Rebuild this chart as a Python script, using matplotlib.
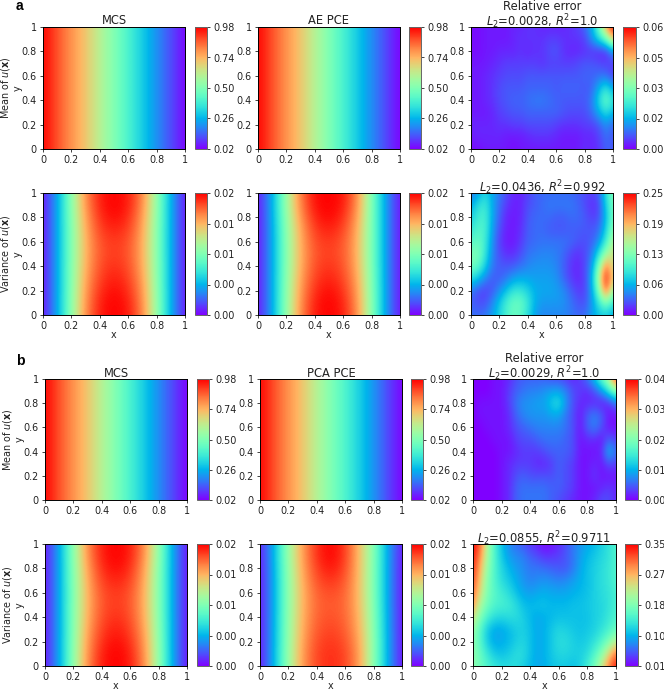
import numpy as np
import matplotlib
matplotlib.use('Agg')
import matplotlib.pyplot as plt

# values, rows run from y=1 down to y=0
mean_mcs = [[0.98, 0.88, 0.79, 0.71, 0.60, 0.50, 0.40, 0.30, 0.20, 0.11, 0.02]]
mean_ae = [[0.98, 0.88, 0.79, 0.71, 0.60, 0.50, 0.40, 0.30, 0.20, 0.11, 0.02]]
mean_pca = [[0.98, 0.88, 0.79, 0.71, 0.60, 0.50, 0.41, 0.31, 0.21, 0.11, 0.02]]

# variance, in 1e-4
var_mcs = [
    [3, 40, 95, 148, 174, 180, 174, 148, 95, 40, 3],
    [3, 40, 95, 146, 174, 180, 174, 146, 95, 40, 3],
    [3, 40, 94, 142, 170, 178, 170, 142, 94, 40, 3],
    [3, 40, 93, 139, 166, 172, 166, 139, 93, 40, 3],
    [3, 40, 93, 137, 162, 168, 162, 137, 93, 40, 3],
    [3, 40, 93, 137, 161, 167, 161, 137, 93, 40, 3],
    [3, 40, 94, 138, 163, 170, 163, 138, 94, 40, 3],
    [3, 40, 94, 141, 166, 174, 166, 141, 94, 40, 3],
    [3, 40, 95, 144, 170, 178, 170, 144, 95, 40, 3],
    [3, 40, 96, 146, 174, 180, 174, 146, 96, 40, 3],
    [3, 40, 96, 148, 175, 180, 175, 148, 96, 40, 3],
]
var_ae = [
    [3, 42, 100, 152, 178, 180, 176, 148, 90, 38, 3],
    [3, 42, 100, 150, 177, 180, 175, 146, 90, 38, 3],
    [3, 41, 97, 145, 172, 179, 170, 142, 90, 38, 3],
    [3, 40, 95, 140, 167, 173, 165, 138, 90, 38, 3],
    [3, 40, 94, 138, 163, 168, 161, 136, 90, 38, 3],
    [3, 40, 94, 137, 161, 166, 160, 136, 90, 38, 3],
    [3, 40, 94, 138, 163, 169, 162, 137, 91, 38, 3],
    [3, 40, 95, 141, 166, 173, 165, 140, 92, 38, 3],
    [3, 40, 96, 144, 170, 178, 169, 143, 93, 38, 3],
    [3, 40, 97, 146, 174, 180, 173, 145, 94, 38, 3],
    [3, 40, 97, 148, 175, 180, 174, 147, 94, 38, 3],
]
var_mcs_b = [
    [3, 40, 95, 148, 174, 180, 174, 148, 97, 40, 3],
    [3, 40, 95, 146, 174, 180, 174, 146, 97, 40, 3],
    [3, 40, 94, 142, 170, 178, 170, 142, 95, 40, 3],
    [3, 40, 93, 139, 166, 172, 166, 139, 94, 40, 3],
    [3, 40, 93, 137, 162, 168, 162, 137, 94, 40, 3],
    [3, 40, 93, 137, 161, 167, 161, 137, 94, 40, 3],
    [3, 40, 94, 138, 163, 170, 163, 138, 95, 40, 3],
    [3, 40, 94, 141, 166, 174, 166, 141, 96, 40, 3],
    [3, 40, 95, 144, 170, 178, 170, 144, 97, 40, 3],
    [3, 40, 96, 146, 174, 180, 174, 146, 98, 40, 3],
    [3, 40, 96, 148, 175, 180, 175, 148, 98, 40, 3],
]
var_pca = [
    [5, 45, 100, 142, 170, 180, 167, 132, 92, 40, 5],
    [4, 45, 100, 142, 170, 180, 167, 132, 92, 40, 4],
    [3, 44, 98, 140, 166, 176, 164, 132, 91, 40, 3],
    [3, 43, 97, 138, 162, 169, 160, 132, 91, 40, 3],
    [3, 43, 97, 136, 158, 163, 157, 132, 91, 40, 3],
    [3, 43, 97, 136, 157, 160, 156, 133, 92, 40, 3],
    [3, 43, 98, 137, 158, 162, 157, 135, 93, 41, 3],
    [3, 44, 98, 139, 160, 165, 159, 137, 94, 41, 3],
    [3, 44, 99, 141, 163, 168, 162, 140, 95, 42, 3],
    [3, 45, 100, 143, 165, 170, 165, 142, 95, 42, 3],
    [3, 45, 100, 143, 165, 170, 165, 142, 95, 42, 3],
]

# relative error, in 1e-3
err_a1 = [
    [1, 1, 2, 2, 2, 2, 3, 3, 4, 4, 3, 3, 3, 3, 4, 5, 8, 15, 28, 48, 62],
    [1, 1, 2, 2, 2, 2, 3, 4, 4, 4, 4, 5, 5, 4, 4, 4, 5, 12, 20, 28, 44],
    [1, 1, 2, 2, 3, 3, 3, 4, 3, 4, 4, 6, 7, 4, 3, 3, 4, 4, 3, 3, 12],
    [2, 2, 2, 3, 4, 5, 5, 5, 5, 5, 4, 5, 5, 5, 5, 6, 7, 7, 6, 5, 5],
    [2, 2, 3, 4, 5, 6, 6, 6, 7, 7, 7, 7, 7, 7, 7, 7, 8, 8, 9, 9, 5],
    [2, 2, 3, 4, 6, 7, 7, 7, 8, 8, 8, 8, 7, 8, 8, 8, 7, 8, 15, 22, 14],
    [2, 2, 3, 4, 6, 7, 8, 8, 9, 10, 10, 9, 8, 7, 7, 7, 7, 10, 20, 29, 22],
    [2, 2, 2, 3, 5, 6, 7, 7, 8, 8, 8, 8, 8, 7, 6, 6, 6, 9, 15, 21, 16],
    [3, 3, 3, 3, 4, 4, 5, 5, 6, 6, 6, 6, 5, 4, 4, 4, 5, 5, 7, 12, 8],
    [2, 3, 3, 3, 3, 2, 2, 2, 3, 4, 4, 4, 3, 2, 2, 2, 3, 3, 5, 9, 7],
    [1, 1, 2, 2, 2, 2, 1, 2, 2, 2, 2, 2, 2, 2, 2, 2, 4, 3, 4, 8, 7],
]
err_a2 = [
    [35, 55, 80, 60, 40, 25, 12, 12, 20, 30, 35, 35, 35, 35, 35, 30, 25, 20, 30, 85, 125],
    [60, 85, 95, 60, 35, 18, 10, 12, 25, 30, 35, 40, 40, 40, 40, 35, 25, 15, 20, 75, 120],
    [75, 95, 100, 60, 30, 12, 8, 12, 28, 35, 35, 35, 30, 30, 35, 35, 30, 20, 25, 65, 120],
    [90, 105, 100, 55, 25, 10, 8, 15, 30, 35, 35, 30, 28, 28, 30, 30, 28, 28, 35, 75, 130],
    [105, 115, 95, 50, 20, 8, 8, 18, 32, 35, 38, 38, 38, 38, 35, 28, 25, 30, 50, 95, 150],
    [125, 125, 90, 45, 25, 15, 15, 25, 38, 42, 45, 45, 42, 35, 22, 15, 22, 40, 85, 140, 165],
    [120, 110, 75, 40, 30, 28, 30, 38, 45, 50, 50, 50, 45, 32, 18, 12, 22, 50, 125, 215, 165],
    [85, 70, 45, 30, 30, 40, 55, 60, 58, 55, 55, 55, 50, 35, 20, 12, 20, 60, 150, 250, 175],
    [40, 25, 20, 28, 48, 70, 90, 90, 78, 62, 58, 58, 55, 48, 32, 20, 20, 55, 125, 225, 140],
    [30, 25, 25, 45, 72, 98, 115, 115, 92, 62, 52, 52, 52, 50, 40, 28, 25, 50, 90, 125, 90],
    [40, 35, 40, 55, 78, 100, 115, 108, 85, 55, 45, 45, 45, 45, 40, 35, 35, 55, 70, 75, 60],
]
err_b1 = [
    [0, 0, 0, 1, 1, 2, 4, 5, 5, 5, 5, 4, 4, 3, 2, 3, 6, 11, 18, 24, 38],
    [0, 0, 0, 1, 1, 3, 5, 6, 7, 7, 8, 9, 9, 7, 4, 3, 2, 4, 8, 14, 20],
    [0, 1, 1, 1, 1, 3, 6, 8, 8, 9, 9, 12, 14, 8, 4, 2, 2, 2, 1, 2, 6],
    [0, 1, 1, 1, 1, 2, 5, 7, 8, 8, 8, 9, 9, 6, 4, 1, 5, 7, 5, 1, 1],
    [0, 0, 1, 1, 1, 2, 4, 5, 6, 7, 7, 7, 7, 6, 4, 1, 5, 7, 4, 1, 1],
    [0, 0, 0, 1, 1, 1, 3, 4, 4, 5, 6, 6, 6, 5, 4, 1, 2, 2, 1, 5, 3],
    [0, 0, 0, 0, 1, 1, 2, 3, 3, 3, 4, 5, 5, 5, 4, 1, 1, 1, 2, 11, 6],
    [0, 0, 0, 0, 1, 2, 3, 3, 3, 2, 2, 3, 5, 4, 3, 1, 1, 2, 1, 4, 3],
    [0, 0, 0, 0, 1, 2, 4, 5, 4, 4, 4, 4, 5, 4, 3, 1, 1, 3, 1, 1, 1],
    [0, 0, 0, 0, 1, 2, 5, 6, 6, 6, 6, 5, 5, 4, 3, 1, 1, 1, 2, 3, 2],
    [0, 0, 0, 0, 1, 2, 5, 6, 6, 6, 6, 5, 4, 3, 2, 1, 1, 2, 4, 4, 2],
]
err_b2 = [
    [350, 310, 210, 150, 105, 75, 60, 50, 35, 25, 15, 20, 30, 45, 65, 80, 90, 100, 115, 130, 150],
    [340, 290, 205, 150, 110, 85, 75, 70, 55, 45, 35, 35, 40, 50, 65, 85, 100, 110, 120, 130, 150],
    [330, 270, 195, 150, 120, 100, 85, 75, 65, 65, 60, 55, 50, 50, 65, 90, 105, 115, 125, 135, 150],
    [320, 255, 185, 150, 125, 110, 95, 80, 70, 75, 80, 75, 70, 75, 85, 95, 105, 115, 125, 135, 150],
    [305, 240, 180, 155, 140, 125, 105, 90, 85, 90, 95, 90, 90, 90, 95, 100, 105, 115, 125, 130, 145],
    [285, 210, 170, 150, 145, 140, 125, 105, 100, 105, 105, 100, 100, 100, 105, 105, 110, 115, 120, 130, 145],
    [235, 180, 145, 125, 120, 125, 125, 115, 100, 90, 95, 100, 105, 105, 105, 105, 105, 115, 120, 135, 150],
    [200, 155, 110, 90, 90, 100, 112, 115, 105, 90, 95, 110, 120, 115, 110, 105, 110, 115, 130, 145, 165],
    [190, 155, 110, 90, 92, 100, 112, 120, 105, 90, 95, 110, 125, 125, 115, 110, 115, 130, 150, 180, 220],
    [195, 165, 135, 110, 105, 112, 125, 125, 105, 90, 95, 110, 120, 120, 115, 115, 125, 150, 185, 245, 300],
    [190, 170, 150, 135, 125, 125, 125, 115, 100, 90, 95, 105, 110, 110, 105, 115, 140, 175, 225, 295, 340],
]

tick_vals = [0, 0.2, 0.4, 0.6, 0.8, 1]
tick_labels = ['0', '0.2', '0.4', '0.6', '0.8', '1']

W, H = 664, 692
fig = plt.figure(figsize=(W / 100, H / 100), dpi=100)
plt.rcParams['mathtext.default'] = 'it'


def panel(box, cbox, grid, scale, vmin, vmax, title=None, xlabel=False, ylabel=None, tpad=1.8):
    left, top, right, bottom = box
    ax = fig.add_axes([left / W, 1 - bottom / H, (right - left) / W, (bottom - top) / H])
    data = np.array(grid) * scale
    ny, nx = data.shape
    dx = 1 / (nx - 1)
    dy = 1 / (ny - 1) if ny > 1 else 1
    im = ax.imshow(data, cmap='rainbow', vmin=vmin, vmax=vmax, aspect='auto', origin='upper',
                   interpolation='bicubic', extent=(-dx / 2, 1 + dx / 2, -dy / 2, 1 + dy / 2))
    ax.set_xlim(0, 1)
    ax.set_ylim(0, 1)
    ax.set_xticks(tick_vals)
    ax.set_xticklabels(tick_labels)
    ax.set_yticks(tick_vals)
    ax.set_yticklabels(tick_labels)
    ax.tick_params(labelsize=6.9, length=2.4, width=0.6, pad=2, colors='#222222')
    for s in ax.spines.values():
        s.set_linewidth(0.7)
    if title:
        # y=1 keeps the title from being pushed up automatically
        ax.set_title(title, fontsize=8.3, y=1, pad=tpad, color='#222222', linespacing=0.95)
    if xlabel:
        ax.set_xlabel('x', fontsize=6.9, labelpad=-0.5, color='#222222')
    if ylabel:
        ax.set_ylabel(ylabel + '\ny', fontsize=6.9, labelpad=-0.5, color='#222222', linespacing=1.1)

    cleft, cright = cbox
    cax = fig.add_axes([cleft / W, 1 - bottom / H, (cright - cleft) / W, (bottom - top) / H])
    cb = fig.colorbar(im, cax=cax, ticks=np.linspace(vmin, vmax, 5), format='%.2f')
    cb.ax.tick_params(labelsize=6.9, length=2.4, width=0.6, pad=2, colors='#222222')
    cb.outline.set_linewidth(0.7)
    cb.outline.set_edgecolor('#666666')


mean_label = 'Mean of $u(\\mathbf{x})$'
var_label = 'Variance of $u(\\mathbf{x})$'

# a
panel((43, 27, 185, 149), (195, 207), mean_mcs, 1, 0.02, 0.98, title='MCS', ylabel=mean_label)
panel((258, 27, 400, 149), (409, 421), mean_ae, 1, 0.02, 0.98, title='AE PCE')
panel((471, 27, 613, 149), (623, 636), err_a1, 1e-3, 0, 0.062,
      title='Relative error\n$L_2$=0.0028, $R^2$=1.0', tpad=0.4)
panel((43, 193, 185, 315), (195, 207), var_mcs, 1e-4, 0, 0.018, xlabel=True, ylabel=var_label)
panel((258, 193, 400, 315), (409, 421), var_ae, 1e-4, 0, 0.018, xlabel=True)
panel((471, 193, 613, 315), (623, 636), err_a2, 1e-3, 0, 0.252, xlabel=True,
      title='$L_2$=0.0436, $R^2$=0.992', tpad=0.4)

# b
panel((45, 379, 187, 500), (197, 209), mean_mcs, 1, 0.02, 0.98, title='MCS', ylabel=mean_label)
panel((260, 379, 402, 500), (411, 423), mean_pca, 1, 0.02, 0.98, title='PCA PCE')
panel((473, 379, 616, 500), (625, 638), err_b1, 1e-3, 0, 0.04,
      title='Relative error\n$L_2$=0.0029, $R^2$=1.0', tpad=0.4)
panel((45, 544, 187, 666), (197, 209), var_mcs_b, 1e-4, 0, 0.018, xlabel=True, ylabel=var_label)
panel((260, 544, 402, 666), (411, 423), var_pca, 1e-4, 0, 0.018, xlabel=True)
panel((473, 544, 616, 666), (625, 638), err_b2, 1e-3, 0.012, 0.35, xlabel=True,
      title='$L_2$=0.0855, $R^2$=0.9711', tpad=0.4)

fig.text(16 / W, 1 - 10.5 / H, 'a', fontsize=10, fontweight='bold', family='Liberation Sans')
fig.text(16 / W, 1 - 365 / H, 'b', fontsize=10, fontweight='bold', family='Liberation Sans')

fig.savefig('out.png', dpi=100)
plt.close()
